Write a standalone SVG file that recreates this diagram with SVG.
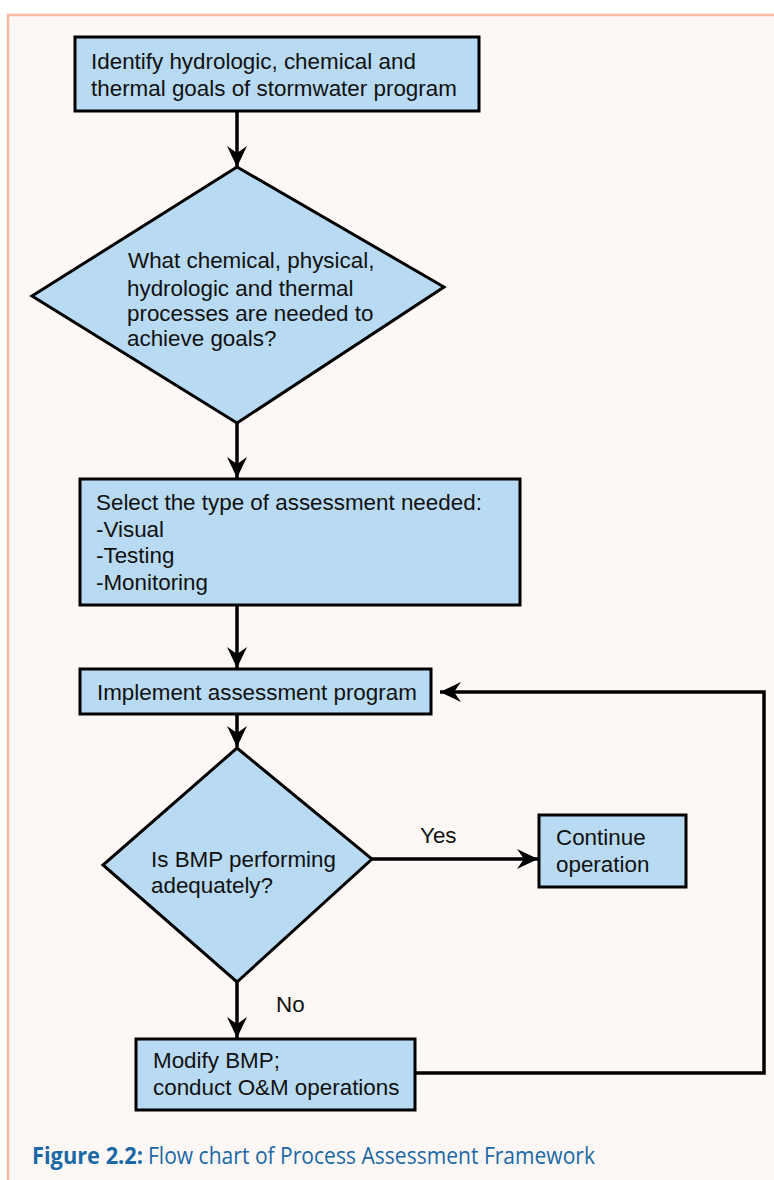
<svg xmlns="http://www.w3.org/2000/svg" width="774" height="1180" viewBox="0 0 774 1180">
<style>
.bg{fill:#fdf8f5}
.frame{fill:none;stroke:#f8b9a2;stroke-width:2.5}
.node{fill:#b8daf2;stroke:#000;stroke-width:3}
.t{font-family:"Liberation Sans",Arial,sans-serif;font-size:22.4px;fill:#111}
.conn{fill:none;stroke:#000;stroke-width:3.5}
.cap{font-family:"Open Sans","Noto Sans",sans-serif;font-size:23px;fill:#1a68a6}
</style>
<defs>
<marker id="ah" viewBox="-22 -11 24 22" refX="0" refY="0" markerWidth="24" markerHeight="22" markerUnits="userSpaceOnUse" orient="auto">
<path d="M0,0 L-21,-10 L-14,0 L-21,10 Z" fill="#000"/>
</marker>
</defs>
<rect class="bg" x="0" y="0" width="774" height="1180"/>
<rect x="0" y="0" width="774" height="14" fill="#ffffff"/>
<rect x="0" y="0" width="7" height="1180" fill="#ffffff"/>
<path class="frame" d="M8,1180 L8,15 L774,15"/>

<g id="connectors">
<line class="conn" x1="237" y1="111" x2="237" y2="167" marker-end="url(#ah)"/>
<line class="conn" x1="237" y1="423" x2="237" y2="478" marker-end="url(#ah)"/>
<line class="conn" x1="237" y1="605" x2="237" y2="668" marker-end="url(#ah)"/>
<line class="conn" x1="237" y1="714" x2="237" y2="747" marker-end="url(#ah)"/>
<line class="conn" x1="372" y1="859" x2="538" y2="859" marker-end="url(#ah)"/>
<line class="conn" x1="237" y1="982" x2="237" y2="1038" marker-end="url(#ah)"/>
<polyline class="conn" points="415,1073 764,1073 764,692 440,692" marker-end="url(#ah)"/>
<text class="t" x="420" y="843">Yes</text>
<text class="t" x="276" y="1012">No</text>
</g>

<g id="n1">
<rect class="node" x="75" y="37" width="404" height="74"/>
<text class="t" x="91" y="69">Identify hydrologic, chemical and</text>
<text class="t" x="91" y="96">thermal goals of stormwater program</text>
</g>

<g id="n2">
<polygon class="node" points="237,167 444,287 237,423 32,296"/>
<text class="t" x="128" y="268">What chemical, physical,</text>
<text class="t" x="127" y="296">hydrologic and thermal</text>
<text class="t" x="127" y="321">processes are needed to</text>
<text class="t" x="127" y="346">achieve goals?</text>
</g>

<g id="n3">
<rect class="node" x="80" y="479" width="440" height="126"/>
<text class="t" x="96" y="510">Select the type of assessment needed:</text>
<text class="t" x="96" y="537">-Visual</text>
<text class="t" x="96" y="563">-Testing</text>
<text class="t" x="96" y="590">-Monitoring</text>
</g>

<g id="n4">
<rect class="node" x="80" y="669" width="351" height="45"/>
<text class="t" x="97" y="700">Implement assessment program</text>
</g>

<g id="n5">
<polygon class="node" points="237,748 372,859 237,982 103,865"/>
<text class="t" x="151" y="867">Is BMP performing</text>
<text class="t" x="151" y="893">adequately?</text>
</g>

<g id="n6">
<rect class="node" x="539" y="815" width="147" height="72"/>
<text class="t" x="556" y="845">Continue</text>
<text class="t" x="556" y="872">operation</text>
</g>

<g id="n7">
<rect class="node" x="136" y="1039" width="279" height="71"/>
<text class="t" x="153" y="1068">Modify BMP;</text>
<text class="t" x="153" y="1095">conduct O&amp;M operations</text>
</g>

<g id="caption">
<text class="cap" x="32" y="1164"><tspan font-weight="bold" textLength="111" lengthAdjust="spacingAndGlyphs">Figure 2.2:</tspan><tspan x="148" textLength="447" lengthAdjust="spacingAndGlyphs">Flow chart of Process Assessment Framework</tspan></text>
</g>
</svg>
